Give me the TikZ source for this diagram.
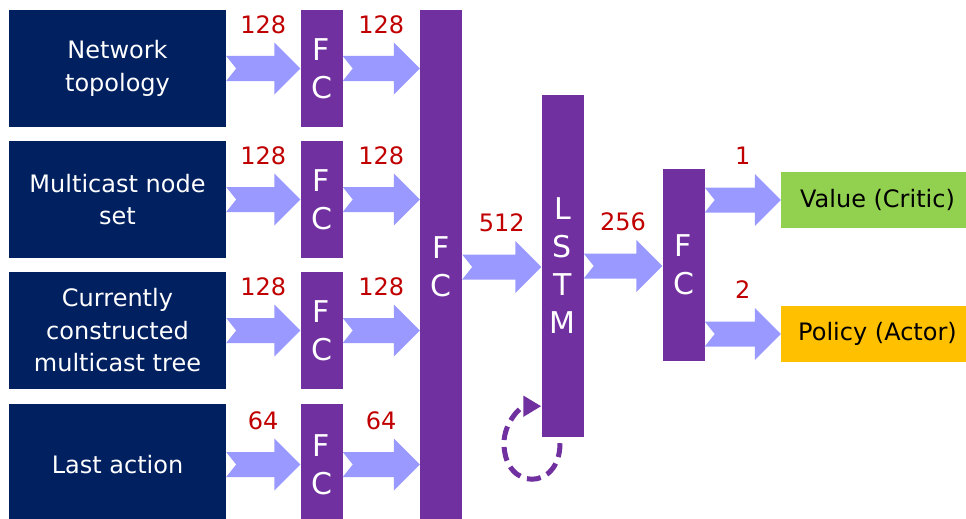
\documentclass[tikz,border=0pt]{standalone}
\usepackage{fontspec}
\setmainfont{DejaVu Sans}
\usetikzlibrary{positioning,arrows.meta,calc}

\definecolor{navy}{RGB}{0,32,96}
\definecolor{fcpurple}{RGB}{112,48,160}
\definecolor{flow}{RGB}{153,153,255}
\definecolor{dimred}{RGB}{192,0,0}
\definecolor{critic}{RGB}{146,208,80}
\definecolor{actor}{RGB}{255,192,0}

% fat notched arrow from #1 to #2, size #3 written above it
\newcommand{\flowarrow}[3]{%
  \fill[flow] let \p1=(#1), \p2=(#2) in
    (\x1,\y2+12.5pt) -- (\x2-26pt,\y2+12.5pt) -- (\x2-26pt,\y2+26pt) -- (\x2,\y2)
    -- (\x2-26pt,\y2-26pt) -- (\x2-26pt,\y2-12.5pt) -- (\x1,\y2-12.5pt)
    -- (\x1+10pt,\y2) -- cycle
    (\x1/2+\x2/2,\y2+44pt) node[units] {#3};}

\begin{document}
\begin{tikzpicture}[x=1pt, y=1pt, node distance=131pt, on grid,
    inbox/.style={fill=navy, text=white, minimum width=217pt, minimum height=117pt,
      align=center, inner sep=0pt, font=\fontsize{24}{32.5}\selectfont},
    fc/.style={fill=fcpurple, text=white, minimum width=42pt, align=center,
      inner sep=0pt, font=\fontsize{30}{38}\selectfont},
    headbox/.style={minimum width=193pt, minimum height=56pt, inner sep=0pt,
      font=\fontsize{24}{29}\selectfont},
    units/.style={text=dimred, font=\fontsize{24}{29}\selectfont},
    recur/.style={draw=fcpurple, line width=5pt, dash pattern=on 14pt off 7pt,
      -{Triangle[length=18pt,width=20pt]}}]

    \useasboundingbox (0,0) rectangle (966,-519);

    % inputs
    \node[inbox] (in0) at (117.5,-68.5) {Network\\topology};
    \node[inbox] (in1) [below=of in0] {Multicast node\\set};
    \node[inbox] (in2) [below=of in1] {Currently\\constructed\\multicast tree};
    \node[inbox, minimum height=121pt] (in3) [below=134pt of in2] {Last action};

    % one FC per input
    \node[fc, minimum height=116pt] (fc0) [right=204pt of in0] {F\\C};
    \node[fc, minimum height=117pt] (fc1) [right=204pt of in1] {F\\C};
    \node[fc, minimum height=117pt] (fc2) [right=204pt of in2] {F\\C};
    \node[fc, minimum height=121pt] (fc3) [right=204pt of in3] {F\\C};

    % shared layers
    \node[fc, minimum height=514pt] (fcall) at (441,-267) {F\\C};
    \node[fc, minimum height=342pt] (lstm) at (562.5,-266) {L\\S\\T\\M};
    \node[fc, minimum height=192pt] (fcout) at (683.5,-265) {F\\C};

    % heads
    \node[headbox, fill=critic] (val) at (877.5,-200) {Value (Critic)};
    \node[headbox, fill=actor] (pol) at (877.5,-334) {Policy (Actor)};

    \flowarrow{in0.east}{fc0.west |- in0.east}{128}
    \flowarrow{in1.east}{fc1.west |- in1.east}{128}
    \flowarrow{in2.east}{fc2.west |- in2.east}{128}
    \flowarrow{in3.east}{fc3.west |- in3.east}{64}

    \flowarrow{fc0.east}{fcall.west |- fc0.east}{128}
    \flowarrow{fc1.east}{fcall.west |- fc1.east}{128}
    \flowarrow{fc2.east}{fcall.west |- fc2.east}{128}
    \flowarrow{fc3.east}{fcall.west |- fc3.east}{64}

    \flowarrow{fcall.east}{lstm.west |- fcall.east}{512}
    \flowarrow{lstm.east}{fcout.west |- lstm.east}{256}
    \flowarrow{fcout.east |- val.west}{val.west}{1}
    \flowarrow{fcout.east |- pol.west}{pol.west}{2}

    % recurrent state
    \draw[recur] ([shift={(-2.5,-6)}]lstm.south)
        to[out=-90, in=-90, looseness=2.2] ++(-56,0)
        to[out=90, in=180] ([yshift=31pt]lstm.south west);

\end{tikzpicture}
\end{document}
